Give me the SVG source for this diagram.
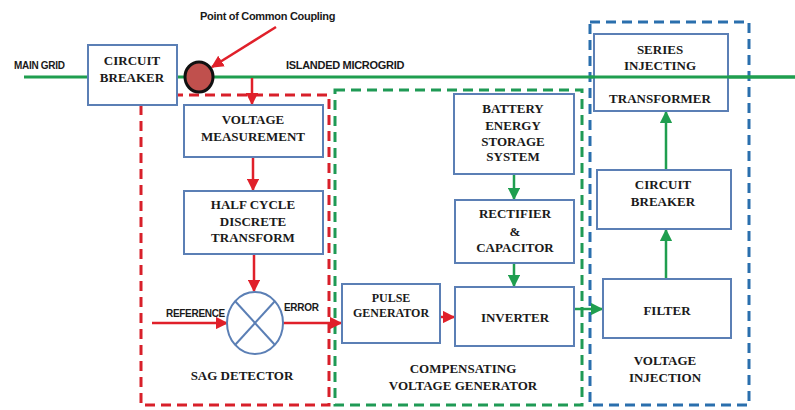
<svg xmlns="http://www.w3.org/2000/svg" width="795" height="410" viewBox="0 0 795 410">
<style>
.box{fill:#fff;stroke:#5b7fb5;stroke-width:2}
.t{font-family:"Liberation Serif","Times New Roman",serif;font-weight:bold;font-size:13px;fill:#1a1a1a;text-anchor:middle}
.s{font-family:"Liberation Sans",Arial,sans-serif;font-weight:bold;font-size:10px;fill:#1a1a1a;letter-spacing:-0.3px}
.red{stroke:#e0202a;stroke-width:2.5;fill:none}
.grn{stroke:#1f9e4f;stroke-width:2.5;fill:none}
.dr{fill:none;stroke:#d8202a;stroke-width:3;stroke-dasharray:10 6}
.dg{fill:none;stroke:#1f9a55;stroke-width:3;stroke-dasharray:10 6}
.db{fill:none;stroke:#2a6fad;stroke-width:3;stroke-dasharray:10 6}
</style>
<defs>
<marker id="ar" viewBox="0 0 10 10" refX="9" refY="5" markerWidth="5" markerHeight="5" orient="auto"><path d="M0,0L10,5L0,10z" fill="#e0202a"/></marker>
<marker id="ag" viewBox="0 0 10 10" refX="9" refY="5" markerWidth="5" markerHeight="5" orient="auto"><path d="M0,0L10,5L0,10z" fill="#1f9e4f"/></marker>
</defs>
<rect width="795" height="410" fill="#fff"/>
<g id="groups">
<rect class="dr" x="141" y="95" width="188" height="310"/>
<rect class="dg" x="335" y="90" width="247" height="315"/>
<rect class="db" x="590" y="22" width="159" height="383"/>
</g>
<g id="connectors">
<line x1="24" y1="77" x2="795" y2="77" stroke="#1f9e4f" stroke-width="3"/>
<line class="red" x1="276" y1="27" x2="212" y2="67" marker-end="url(#ar)"/>
<line class="red" x1="252" y1="78" x2="252" y2="104" marker-end="url(#ar)"/>
<line class="red" x1="253" y1="157" x2="253" y2="190" marker-end="url(#ar)"/>
<line class="red" x1="254" y1="254" x2="254" y2="291" marker-end="url(#ar)"/>
<line class="red" x1="152" y1="323" x2="227" y2="323" marker-end="url(#ar)"/>
<line class="red" x1="283" y1="323" x2="341" y2="323" marker-end="url(#ar)"/>
<line class="red" x1="440" y1="317" x2="454" y2="317" marker-end="url(#ar)"/>
<line class="grn" x1="514" y1="174" x2="514" y2="199" marker-end="url(#ag)"/>
<line class="grn" x1="514" y1="263" x2="514" y2="286" marker-end="url(#ag)"/>
<line class="grn" x1="575" y1="309" x2="602" y2="309" marker-end="url(#ag)"/>
<line class="grn" x1="666" y1="279" x2="666" y2="230" marker-end="url(#ag)"/>
<line class="grn" x1="666" y1="170" x2="666" y2="112" marker-end="url(#ag)"/>
</g>
<g id="labels">
<text class="s" x="14" y="69">MAIN GRID</text>
<text class="s" x="286" y="69" style="font-size:11px">ISLANDED MICROGRID</text>
<text class="s" x="200" y="20" style="font-size:11px">Point of Common Coupling</text>
<text class="s" x="166" y="317">REFERENCE</text>
<text class="s" x="284" y="311">ERROR</text>
<text class="t" x="242" y="380">SAG DETECTOR</text>
<text class="t" x="463" y="373">COMPENSATING</text>
<text class="t" x="463" y="390">VOLTAGE GENERATOR</text>
<text class="t" x="665" y="365">VOLTAGE</text>
<text class="t" x="665" y="382">INJECTION</text>
</g>
<g id="cb1">
<rect class="box" x="88" y="45" width="89" height="60"/>
<text class="t" x="132" y="65">CIRCUIT</text>
<text class="t" x="132" y="82">BREAKER</text>
</g>
<g id="pcc">
<ellipse cx="199" cy="77" rx="14" ry="15" fill="#c0504d" stroke="#111" stroke-width="3"/>
</g>
<g id="vm">
<rect class="box" x="184" y="105" width="139" height="52"/>
<text class="t" x="253" y="124">VOLTAGE</text>
<text class="t" x="253" y="141">MEASUREMENT</text>
</g>
<g id="hcdt">
<rect class="box" x="184" y="191" width="139" height="63"/>
<text class="t" x="253" y="209">HALF CYCLE</text>
<text class="t" x="253" y="226">DISCRETE</text>
<text class="t" x="253" y="242">TRANSFORM</text>
</g>
<g id="sag">
<ellipse cx="255" cy="323" rx="28" ry="31" fill="#fff" stroke="#5b7fb5" stroke-width="2"/>
<line x1="235" y1="301" x2="275" y2="345" stroke="#5b7fb5" stroke-width="2"/>
<line x1="275" y1="301" x2="235" y2="345" stroke="#5b7fb5" stroke-width="2"/>
</g>
<g id="pulse">
<rect class="box" x="342" y="284" width="98" height="59"/>
<text class="t" x="391" y="302" style="font-size:12px">PULSE</text>
<text class="t" x="391" y="317" style="font-size:12px">GENERATOR</text>
</g>
<g id="bess">
<rect class="box" x="454" y="94" width="120" height="80"/>
<text class="t" x="513" y="113">BATTERY</text>
<text class="t" x="513" y="130">ENERGY</text>
<text class="t" x="513" y="146">STORAGE</text>
<text class="t" x="513" y="161">SYSTEM</text>
</g>
<g id="rect">
<rect class="box" x="455" y="200" width="119" height="63"/>
<text class="t" x="515" y="218">RECTIFIER</text>
<text class="t" x="515" y="236">&amp;</text>
<text class="t" x="515" y="252">CAPACITOR</text>
</g>
<g id="inverter">
<rect class="box" x="455" y="287" width="119" height="59"/>
<text class="t" x="515" y="322">INVERTER</text>
</g>
<g id="sit">
<rect class="box" x="594" y="34" width="134" height="77"/>
<line x1="590" y1="77" x2="795" y2="77" stroke="#1f9e4f" stroke-width="3"/>
<text class="t" x="660" y="54">SERIES</text>
<text class="t" x="660" y="70">INJECTING</text>
<text class="t" x="660" y="103">TRANSFORMER</text>
</g>
<g id="cb2">
<rect class="box" x="597" y="170" width="134" height="59"/>
<text class="t" x="663" y="189">CIRCUIT</text>
<text class="t" x="663" y="206">BREAKER</text>
</g>
<g id="filter">
<rect class="box" x="603" y="279" width="128" height="59"/>
<text class="t" x="667" y="315">FILTER</text>
</g>
</svg>
